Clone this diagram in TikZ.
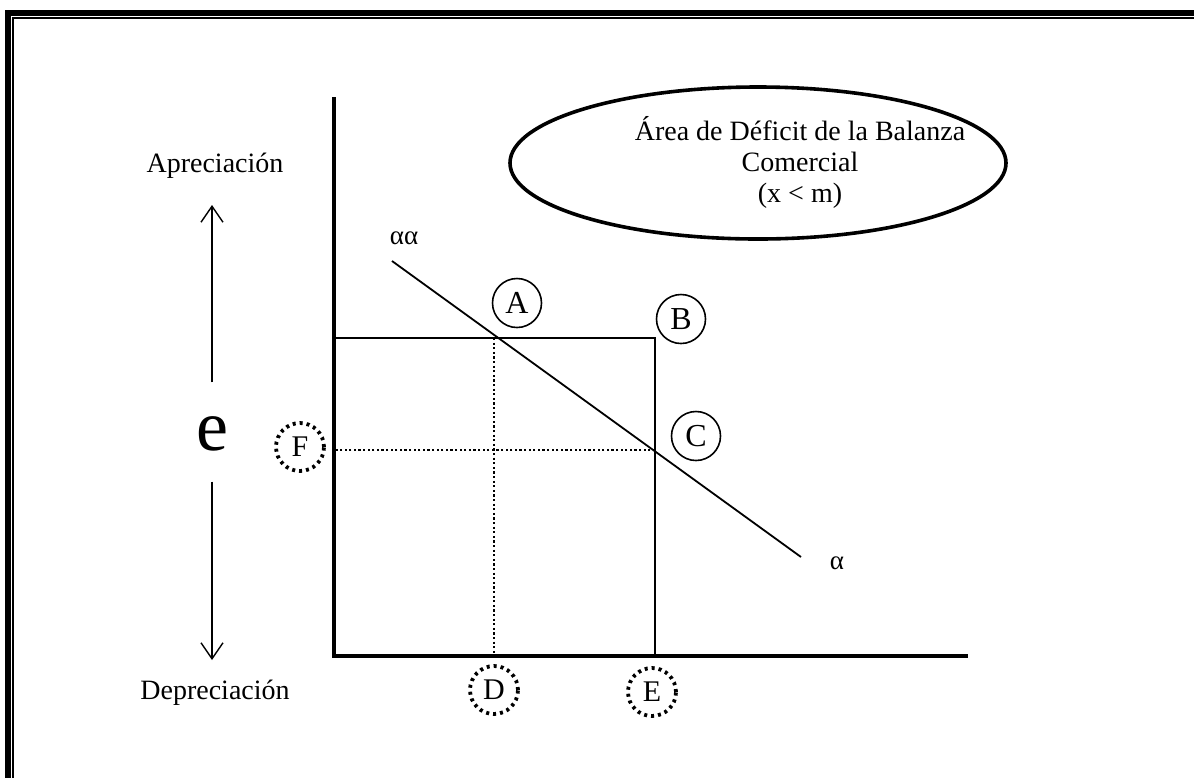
\documentclass[tikz,border=0pt]{standalone}
\usepackage{fontspec}
\setmainfont{Liberation Serif}
\usetikzlibrary{arrows.meta,positioning,shapes.geometric}

\begin{document}
\begin{tikzpicture}[
  x=0.5pt, y=-0.5pt,
  lbl/.style={font=\fontsize{14}{15.5}\selectfont, inner sep=1pt},
  greek/.style={font=\fontsize{13.5}{16}\selectfont, inner sep=1pt},
  pointmark/.style={draw, circle, line width=0.8pt, minimum size=24.5pt, inner sep=0pt, font=\fontsize{16}{18}\selectfont},
  projmark/.style={draw, circle, line width=1.9pt, dash pattern=on 1.5pt off 2pt, minimum size=24pt, inner sep=0pt, font=\fontsize{15}{17}\selectfont},
  axis/.style={line width=2pt},
  bound/.style={line width=1.4pt},
  guide/.style={line width=1.2pt, dash pattern=on 1.1pt off 1.2pt},
  curve/.style={line width=0.9pt},
  trend/.style={-{Straight Barb[length=8pt, width=11pt]}, line width=0.7pt},
]
\useasboundingbox (0,0) rectangle (1194,778);

% ===== Double frame (top and left edges) =====
\draw[line width=2.8pt] (1194,12.8) -- (7.8,12.8) -- (7.8,778);
\draw[line width=1pt] (1194,18) -- (13,18) -- (13,778);

% ===== Axes =====
\coordinate (O) at (334,656);
\coordinate (ytop) at (334,97);
\coordinate (xend) at (968,656);
\draw[axis] (ytop) -- (O) -- (xend);

% ===== Box B, demand line and projections =====
\coordinate (rtl) at (334,338);
\coordinate (rtr) at (655,338);
\coordinate (rbr) at (655,656);
\draw[bound] (rtl) -- (rtr) -- (rbr);

\coordinate (l0) at (392,261);
\coordinate (l1) at (801,557);
\draw[curve] (l0) -- (l1);

\coordinate (pa) at (494,338);
\coordinate (pc) at (655,450);
\draw[guide] (pa) -- (pa |- O);
\draw[guide] (pc) -- (pc -| O);

% ===== Point markers =====
\node[pointmark] (A) at (517,303) {A};
\node[pointmark] (B) at (681,319) {B};
\node[pointmark] (C) at (696,436) {C};
\node[projmark] (F) at (300,447) {F};
\node[projmark] (D) at (494,690) {D};
\node[projmark] (E) at (652,692) {E};

\node[greek] (aa) at (404,238) {αα};
\node[greek] (a) at (837,563) {α};

% ===== Exchange rate direction (left) =====
\node[lbl] (apr) at (215,166) {Apreciación};
\node[lbl] (dep) at (215,693) {Depreciación};
\node[font=\fontsize{36}{36}\selectfont, inner sep=0pt] (e) at (212,434) {e};
\coordinate (uptip) at (212,205);
\coordinate (downtip) at (212,660);
\draw[trend, shorten <=17pt] (e) -- (uptip);
\draw[trend, shorten <=15pt] (e) -- (downtip);

% ===== Deficit area =====
\node[draw, ellipse, line width=1.8pt, minimum width=248pt, minimum height=76pt] (zone) at (758,163) {};
\node[lbl, align=center] (zonetxt) at (800,162) {Área de Déficit de la Balanza\\Comercial\\(x < m)};

\end{tikzpicture}
\end{document}
